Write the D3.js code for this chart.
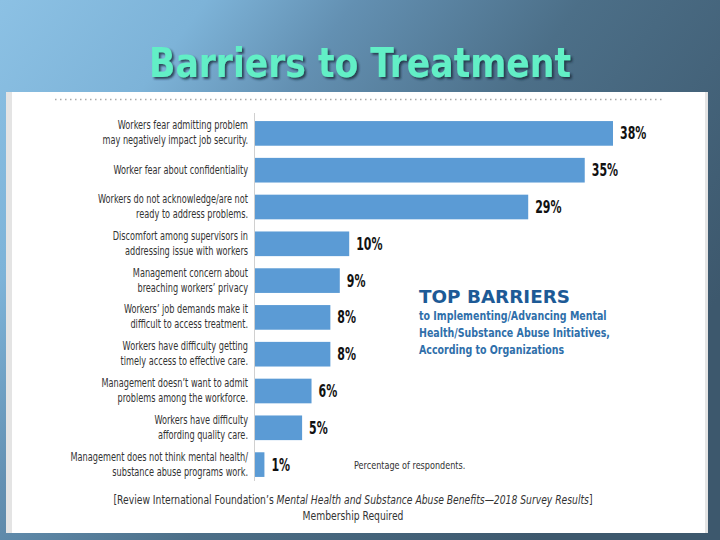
<!DOCTYPE html>
<html>
<head>
<meta charset="utf-8">
<script src="https://cdn.jsdelivr.net/npm/d3@7"></script>
<style>
  body { margin: 0; padding: 0; overflow: hidden; }
  svg { display: block; }
</style>
</head>
<body>
<div id="chart"></div>
<script>
var categories = [
  ["Workers fear admitting problem", "may negatively impact job security."],
  ["Worker fear about confidentiality"],
  ["Workers do not acknowledge/are not", "ready to address problems."],
  ["Discomfort among supervisors in", "addressing issue with workers"],
  ["Management concern about", "breaching workers\u2019 privacy"],
  ["Workers\u2019 job demands make it", "difficult to access treatment."],
  ["Workers have difficulty getting", "timely access to effective care."],
  ["Management doesn\u2019t want to admit", "problems among the workforce."],
  ["Workers have difficulty", "affording quality care."],
  ["Management does not think mental health/", "substance abuse programs work."]
];
var values = [38, 35, 29, 10, 9, 8, 8, 6, 5, 1];
var subtitle = ["to Implementing/Advancing Mental", "Health/Substance Abuse Initiatives,", "According to Organizations"];

var width = 720;
var height = 540;
var narrow = "'Liberation Sans Narrow', 'DejaVu Sans Condensed', sans-serif";

// squeeze a text sideways, the fonts here are wider than the original
function squeeze(sel, k) {
  sel.each(function(){
    var t = d3.select(this);
    var px = +t.attr('x'), py = +t.attr('y');
    t.attr('x', 0).attr('y', 0)
     .attr('transform', 'translate(' + px + ',' + py + ') scale(' + k + ',1)');
  });
}

var svg = d3.select('#chart')
            .append('svg')
            .attr('width', width)
            .attr('height', height);

// slide background
var defs = svg.append('defs');
var grad = defs.append('linearGradient')
               .attr('id', 'bg')
               .attr('x1', 0).attr('y1', 0)
               .attr('x2', 1).attr('y2', 0.55);
grad.append('stop').attr('offset', 0).attr('stop-color', '#8cc1e4');
grad.append('stop').attr('offset', 0.22).attr('stop-color', '#7db3d8');
grad.append('stop').attr('offset', 0.38).attr('stop-color', '#6390b2');
grad.append('stop').attr('offset', 0.62).attr('stop-color', '#4c6f88');
grad.append('stop').attr('offset', 1).attr('stop-color', '#3d586d');

var shadow = defs.append('filter').attr('id', 'shadow')
                 .attr('x', -0.05).attr('y', -0.2).attr('width', 1.1).attr('height', 1.4);
shadow.append('feDropShadow')
      .attr('dx', 2).attr('dy', 2).attr('stdDeviation', 1)
      .attr('flood-color', '#1a2c3a').attr('flood-opacity', 0.8);

svg.append('rect').attr('width', width).attr('height', height).attr('fill', 'url(#bg)');

// title
svg.append('text')
   .attr('x', 360).attr('y', 77)
   .attr('text-anchor', 'middle')
   .attr('font-family', "'DejaVu Sans Condensed', sans-serif")
   .attr('font-weight', 'bold')
   .attr('font-size', 40)
   .attr('textLength', 422).attr('lengthAdjust', 'spacingAndGlyphs')
   .attr('fill', '#62efc6')
   .attr('filter', 'url(#shadow)')
   .text('Barriers to Treatment');

// white panel
svg.append('rect').attr('x', 6).attr('y', 92).attr('width', 702).attr('height', 441).attr('fill', '#e4e4e4');
svg.append('rect').attr('x', 12).attr('y', 92).attr('width', 693).attr('height', 441).attr('fill', '#ffffff');

svg.append('line')
   .attr('x1', 55).attr('x2', 665).attr('y1', 99.5).attr('y2', 99.5)
   .attr('stroke', '#aaaaaa').attr('stroke-width', 1.5)
   .attr('stroke-dasharray', '1.5,3.5');

var x = d3.scaleLinear().domain([0, 38]).range([255, 613]);
var y = d3.scaleBand()
          .domain(d3.range(values.length))
          .range([115, 483])
          .paddingInner(0.33)
          .paddingOuter(0.165);

svg.append('line')
   .attr('x1', 254.5).attr('x2', 254.5).attr('y1', 113).attr('y2', 481)
   .attr('stroke', '#d0d0d0');

var bars = svg.selectAll('.bar')
              .data(values)
              .enter()
              .append('rect');

bars.attr('x', x(0))
    .attr('y', function(d, i){ return y(i); })
    .attr('width', function(d){ return x(d) - x(0); })
    .attr('height', y.bandwidth())
    .attr('fill', '#5b9bd5');

var vals = svg.selectAll('.val')
              .data(values)
              .enter()
              .append('text');

vals.attr('x', function(d){ return x(d) + 7; })
    .attr('y', function(d, i){ return y(i) + y.bandwidth() / 2 + 6; })
    .attr('font-family', narrow)
    .attr('font-weight', 'bold')
    .attr('font-size', 17)
    .attr('fill', '#111')
    .text(function(d){ return d + '%'; });
squeeze(vals, 0.72);

var lines = [];
categories.forEach(function(c, i){
  c.forEach(function(t, j){ lines.push({ t: t, i: i, j: j, n: c.length }); });
});

var labels = svg.selectAll('.lab')
                .data(lines)
                .enter()
                .append('text')
                .attr('x', 248)
                .attr('y', function(d){
                  var cy = y(d.i) + y.bandwidth() / 2;
                  return cy - (d.n - 1) * 7.5 + 3.5 + d.j * 15;
                })
                .attr('text-anchor', 'end')
                .attr('font-family', narrow)
                .attr('font-size', 11.5)
                .attr('fill', '#333')
                .text(function(d){ return d.t; });
squeeze(labels, 0.79);

// side note
svg.append('text')
   .attr('x', 419).attr('y', 303)
   .attr('font-family', "'DejaVu Sans', sans-serif")
   .attr('font-weight', 'bold')
   .attr('font-size', 17)
   .attr('textLength', 151).attr('lengthAdjust', 'spacingAndGlyphs')
   .attr('fill', '#1d5a96')
   .text('TOP BARRIERS');

var subs = svg.selectAll('.sub')
   .data(subtitle)
   .enter()
   .append('text')
   .attr('x', 419)
   .attr('y', function(d, i){ return 320 + i * 17; })
   .attr('font-family', narrow)
   .attr('font-weight', 'bold')
   .attr('font-size', 13)
   .attr('fill', '#2f6faa')
   .text(function(d){ return d; });
squeeze(subs, 0.81);

var pct = svg.append('text')
   .attr('x', 354).attr('y', 469)
   .attr('font-family', narrow)
   .attr('font-size', 11)
   .attr('fill', '#333')
   .text('Percentage of respondents.');
squeeze(pct, 0.82);

var foot = svg.append('text')
   .attr('x', 353).attr('y', 504)
   .attr('text-anchor', 'middle')
   .attr('font-family', narrow)
   .attr('font-size', 12.5)
   .attr('fill', '#333');
foot.append('tspan').text('[Review International Foundation\u2019s ');
foot.append('tspan').attr('font-style', 'italic').text('Mental Health and Substance Abuse Benefits\u20142018 Survey Results');
foot.append('tspan').text(']');
squeeze(foot, 0.82);

var memb = svg.append('text')
   .attr('x', 353).attr('y', 520)
   .attr('text-anchor', 'middle')
   .attr('font-family', narrow)
   .attr('font-size', 12.5)
   .attr('fill', '#333')
   .text('Membership Required');
squeeze(memb, 0.82);
</script>
</body>
</html>
